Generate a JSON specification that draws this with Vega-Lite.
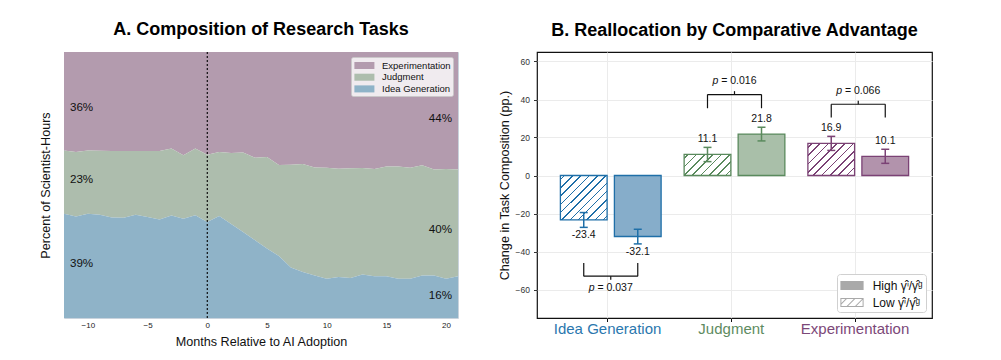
{
  "$schema": "https://vega.github.io/schema/vega-lite/v6.json",
  "padding": {"left": 38, "top": 20, "right": 5, "bottom": 3},
  "spacing": 38,
  "config": {
    "font": "Liberation Sans",
    "axis": {"labelFont": "Liberation Sans", "titleFont": "Liberation Sans", "titleFontWeight": "normal", "titleColor": "#111", "labelColor": "#222"},
    "legend": {"labelFont": "Liberation Sans"},
    "title": {"font": "Liberation Sans", "fontWeight": "bold", "fontSize": 18, "color": "#000"}
  },
  "resolve": {"scale": {"color": "independent", "fill": "independent", "stroke": "independent", "shape": "independent", "x": "independent", "y": "independent"}, "legend": {"color": "independent"}},
  "datasets": {
    "composition": [
      {"m": -12, "Idea Generation": 39.2, "Judgment": 23.8, "Experimentation": 37.0},
      {"m": -11, "Idea Generation": 38.2, "Judgment": 24.2, "Experimentation": 37.6},
      {"m": -10, "Idea Generation": 39.2, "Judgment": 23.8, "Experimentation": 37.0},
      {"m": -9, "Idea Generation": 38.8, "Judgment": 24.1, "Experimentation": 37.1},
      {"m": -8, "Idea Generation": 37.8, "Judgment": 25.0, "Experimentation": 37.2},
      {"m": -7, "Idea Generation": 37.7, "Judgment": 25.1, "Experimentation": 37.2},
      {"m": -6, "Idea Generation": 38.8, "Judgment": 24.0, "Experimentation": 37.2},
      {"m": -5, "Idea Generation": 38.0, "Judgment": 24.8, "Experimentation": 37.2},
      {"m": -4, "Idea Generation": 37.0, "Judgment": 25.8, "Experimentation": 37.2},
      {"m": -3, "Idea Generation": 38.5, "Judgment": 25.2, "Experimentation": 36.3},
      {"m": -2, "Idea Generation": 37.3, "Judgment": 23.9, "Experimentation": 38.8},
      {"m": -1, "Idea Generation": 38.6, "Judgment": 25.1, "Experimentation": 36.3},
      {"m": 0, "Idea Generation": 36.1, "Judgment": 25.3, "Experimentation": 38.6},
      {"m": 1, "Idea Generation": 38.3, "Judgment": 24.1, "Experimentation": 37.6},
      {"m": 2, "Idea Generation": 35.3, "Judgment": 26.7, "Experimentation": 38.0},
      {"m": 3, "Idea Generation": 32.3, "Judgment": 29.9, "Experimentation": 37.8},
      {"m": 4, "Idea Generation": 29.2, "Judgment": 31.0, "Experimentation": 39.8},
      {"m": 5, "Idea Generation": 26.1, "Judgment": 34.4, "Experimentation": 39.5},
      {"m": 6, "Idea Generation": 23.3, "Judgment": 34.2, "Experimentation": 42.5},
      {"m": 7, "Idea Generation": 19.0, "Judgment": 38.6, "Experimentation": 42.4},
      {"m": 8, "Idea Generation": 17.3, "Judgment": 40.6, "Experimentation": 42.1},
      {"m": 9, "Idea Generation": 16.0, "Judgment": 40.6, "Experimentation": 43.4},
      {"m": 10, "Idea Generation": 14.8, "Judgment": 41.7, "Experimentation": 43.5},
      {"m": 11, "Idea Generation": 15.4, "Judgment": 40.7, "Experimentation": 43.9},
      {"m": 12, "Idea Generation": 15.0, "Judgment": 41.3, "Experimentation": 43.7},
      {"m": 13, "Idea Generation": 16.4, "Judgment": 40.0, "Experimentation": 43.6},
      {"m": 14, "Idea Generation": 15.7, "Judgment": 40.3, "Experimentation": 44.0},
      {"m": 15, "Idea Generation": 15.7, "Judgment": 41.3, "Experimentation": 43.0},
      {"m": 16, "Idea Generation": 14.8, "Judgment": 42.2, "Experimentation": 43.0},
      {"m": 17, "Idea Generation": 14.8, "Judgment": 41.7, "Experimentation": 43.5},
      {"m": 18, "Idea Generation": 16.0, "Judgment": 41.4, "Experimentation": 42.6},
      {"m": 19, "Idea Generation": 16.0, "Judgment": 39.8, "Experimentation": 44.2},
      {"m": 20, "Idea Generation": 14.8, "Judgment": 41.2, "Experimentation": 44.0},
      {"m": 21, "Idea Generation": 15.7, "Judgment": 40.1, "Experimentation": 44.2}
    ],
    "pct_labels": [
      {"m": -11.5, "share": 78.9, "label": "36%", "side": "start"},
      {"m": -11.5, "share": 51.9, "label": "23%", "side": "start"},
      {"m": -11.5, "share": 20.3, "label": "39%", "side": "start"},
      {"m": 20.5, "share": 74.8, "label": "44%", "side": "end"},
      {"m": 20.5, "share": 33.1, "label": "40%", "side": "end"},
      {"m": 20.5, "share": 8.3, "label": "16%", "side": "end"}
    ],
    "bars": [
      {"task": "Idea Generation", "group": "Low", "value": -23.4, "lo": -27.3, "hi": -19.5},
      {"task": "Idea Generation", "group": "High", "value": -32.1, "lo": -36.0, "hi": -28.3},
      {"task": "Judgment", "group": "Low", "value": 11.1, "lo": 7.3, "hi": 14.8},
      {"task": "Judgment", "group": "High", "value": 21.8, "lo": 18.2, "hi": 25.4},
      {"task": "Experimentation", "group": "Low", "value": 16.9, "lo": 13.2, "hi": 20.6},
      {"task": "Experimentation", "group": "High", "value": 10.1, "lo": 6.4, "hi": 13.8}
    ],
    "brackets": [
      {"task": "Idea Generation", "bar": -53.0, "leg": -46.1, "tip": -54.9, "label_y": -59.1, "p": "= 0.037"},
      {"task": "Judgment", "bar": 42.6, "leg": 35.4, "tip": 44.4, "label_y": 49.5, "p": "= 0.016"},
      {"task": "Experimentation", "bar": 37.5, "leg": 30.5, "tip": 39.3, "label_y": 44.6, "p": "= 0.066"}
    ]
  },
  "hconcat": [
    {
      "width": 394,
      "height": 266,
      "title": {"text": "A. Composition of Research Tasks", "offset": 12, "anchor": "middle", "frame": "group"},
      "view": {"stroke": "#c9d3dd", "strokeWidth": 1},
      "layer": [
        {
          "data": {"name": "composition"},
          "transform": [
            {"fold": ["Experimentation", "Judgment", "Idea Generation"], "as": ["task", "share"]},
            {"calculate": "indexof(['Idea Generation','Judgment','Experimentation'], datum.task)", "as": "stack_rank"}
          ],
          "mark": {"type": "area", "opacity": 1},
          "encoding": {
            "x": {"field": "m", "type": "quantitative", "scale": {"domain": [-12, 21], "nice": false, "zero": false},
                  "axis": {"title": "Months Relative to AI Adoption", "values": [-10, -5, 0, 5, 10, 15, 20], "grid": false, "ticks": false, "domain": false, "labelFontSize": 8, "labelPadding": 3, "titleFontSize": 12.6, "titlePadding": 6}},
            "y": {"field": "share", "type": "quantitative", "stack": "zero", "scale": {"domain": [0, 100], "nice": false},
                  "axis": {"title": "Percent of Scientist-Hours", "labels": false, "ticks": false, "grid": false, "domain": false, "titleFontSize": 12.6, "titlePadding": 12}},
            "color": {"field": "task", "type": "nominal",
                      "scale": {"domain": ["Experimentation", "Judgment", "Idea Generation"], "range": ["#b39bae", "#adbdad", "#8fb3c8"]},
                      "legend": {"title": null, "orient": "top-right", "offset": 5, "fillColor": "rgba(255,255,255,0.8)", "strokeColor": "rgba(200,200,200,0.8)", "cornerRadius": 2, "padding": 2, "rowPadding": 0.7, "symbolType": "M-1.54,-0.54H1.54V0.54H-1.54Z", "symbolSize": 169, "symbolOffset": 4.9, "labelOffset": 11.1, "labelFontSize": 9.5, "labelColor": "#111", "symbolStrokeWidth": 0, "symbolOpacity": 1}},
            "order": {"field": "stack_rank", "type": "quantitative", "sort": "ascending"}
          }
        },
        {
          "data": {"values": [{"m": 0}]},
          "mark": {"type": "rule", "color": "#000", "strokeWidth": 1.1, "strokeDash": [2, 2]},
          "encoding": {"x": {"field": "m", "type": "quantitative"}}
        },
        {
          "data": {"name": "pct_labels"},
          "transform": [{"filter": "datum.side === 'start'"}],
          "mark": {"type": "text", "align": "left", "baseline": "middle", "fontSize": 11.6, "color": "#111"},
          "encoding": {
            "x": {"field": "m", "type": "quantitative"},
            "y": {"field": "share", "type": "quantitative"},
            "text": {"field": "label", "type": "nominal"}
          }
        },
        {
          "data": {"name": "pct_labels"},
          "transform": [{"filter": "datum.side === 'end'"}],
          "mark": {"type": "text", "align": "right", "baseline": "middle", "fontSize": 11.6, "color": "#111"},
          "encoding": {
            "x": {"field": "m", "type": "quantitative"},
            "y": {"field": "share", "type": "quantitative"},
            "text": {"field": "label", "type": "nominal"}
          }
        }
      ]
    },
    {
      "width": 395,
      "height": 266,
      "title": {"text": "B. Reallocation by Comparative Advantage", "offset": 12, "anchor": "middle", "frame": "group"},
      "view": {"stroke": "#111", "strokeWidth": 1.2},
      "encoding": {
        "x": {"field": "task", "type": "nominal",
              "scale": {"domain": ["Idea Generation", "Judgment", "Experimentation"], "paddingInner": 0.186, "paddingOuter": 0.189},
              "axis": {"title": null, "labelAngle": 0, "labelFontSize": 15, "labelPadding": 0, "ticks": true, "tickSize": 3.5, "tickColor": "#111", "domain": false, "grid": true, "gridColor": "#ebebeb", "bandPosition": 0.5, "tickOffset": -3.7,
                       "labelColor": {"condition": [{"test": "datum.value === 'Idea Generation'", "value": "#2a77ae"}, {"test": "datum.value === 'Judgment'", "value": "#5e8b61"}], "value": "#7c4878"}}}
      },
      "layer": [
        {
          "data": {"name": "bars"},
          "transform": [{"filter": "datum.group === 'High'"}],
          "mark": {"type": "bar", "strokeWidth": 1.3},
          "encoding": {
            "xOffset": {"field": "group", "type": "nominal", "scale": {"domain": ["Low", "High"], "paddingInner": 0.135, "paddingOuter": 0}},
            "y": {"field": "value", "type": "quantitative", "scale": {"domain": [-75, 65], "nice": false, "zero": false},
                  "axis": {"title": "Change in Task Composition (pp.)", "values": [-60, -40, -20, 0, 20, 40, 60], "titleFontSize": 12.6, "titlePadding": 4, "labelFontSize": 8.5, "labelPadding": 4, "tickSize": 3.5, "tickColor": "#333", "labelColor": "#333", "domain": false, "grid": true, "gridColor": "#ebebeb"}},
            "fill": {"field": "task", "type": "nominal", "scale": {"domain": ["Idea Generation", "Judgment", "Experimentation"], "range": ["#86adca", "#a9bfa9", "#b293ac"]}, "legend": null},
            "stroke": {"field": "task", "type": "nominal", "scale": {"domain": ["Idea Generation", "Judgment", "Experimentation"], "range": ["#1f6fa8", "#5a8a5d", "#7b4275"]}, "legend": null}
          }
        },
        {
          "data": {"name": "bars"},
          "transform": [{"filter": "datum.group === 'Low' && datum.task === 'Idea Generation'"}],
          "mark": {"type": "bar", "strokeWidth": 1.3, "stroke": "#1f6fa8",
                   "fill": {"gradient": "linear", "x1": 0, "y1": 0, "x2": 1.024, "y2": 0.975, "stops": [
                     {"offset": 0, "color": "#ffffff"},
                     {"offset": 0.035, "color": "#ffffff"}, {"offset": 0.035, "color": "#1f6fa8"}, {"offset": 0.053, "color": "#1f6fa8"}, {"offset": 0.053, "color": "#ffffff"},
                     {"offset": 0.126, "color": "#ffffff"}, {"offset": 0.126, "color": "#1f6fa8"}, {"offset": 0.144, "color": "#1f6fa8"}, {"offset": 0.144, "color": "#ffffff"},
                     {"offset": 0.218, "color": "#ffffff"}, {"offset": 0.218, "color": "#1f6fa8"}, {"offset": 0.235, "color": "#1f6fa8"}, {"offset": 0.235, "color": "#ffffff"},
                     {"offset": 0.309, "color": "#ffffff"}, {"offset": 0.309, "color": "#1f6fa8"}, {"offset": 0.327, "color": "#1f6fa8"}, {"offset": 0.327, "color": "#ffffff"},
                     {"offset": 0.401, "color": "#ffffff"}, {"offset": 0.401, "color": "#1f6fa8"}, {"offset": 0.418, "color": "#1f6fa8"}, {"offset": 0.418, "color": "#ffffff"},
                     {"offset": 0.492, "color": "#ffffff"}, {"offset": 0.492, "color": "#1f6fa8"}, {"offset": 0.510, "color": "#1f6fa8"}, {"offset": 0.510, "color": "#ffffff"},
                     {"offset": 0.583, "color": "#ffffff"}, {"offset": 0.583, "color": "#1f6fa8"}, {"offset": 0.601, "color": "#1f6fa8"}, {"offset": 0.601, "color": "#ffffff"},
                     {"offset": 0.675, "color": "#ffffff"}, {"offset": 0.675, "color": "#1f6fa8"}, {"offset": 0.692, "color": "#1f6fa8"}, {"offset": 0.692, "color": "#ffffff"},
                     {"offset": 0.766, "color": "#ffffff"}, {"offset": 0.766, "color": "#1f6fa8"}, {"offset": 0.784, "color": "#1f6fa8"}, {"offset": 0.784, "color": "#ffffff"},
                     {"offset": 0.857, "color": "#ffffff"}, {"offset": 0.857, "color": "#1f6fa8"}, {"offset": 0.875, "color": "#1f6fa8"}, {"offset": 0.875, "color": "#ffffff"},
                     {"offset": 0.949, "color": "#ffffff"}, {"offset": 0.949, "color": "#1f6fa8"}, {"offset": 0.966, "color": "#1f6fa8"}, {"offset": 0.966, "color": "#ffffff"},
                     {"offset": 1, "color": "#ffffff"}]}},
          "encoding": {
            "xOffset": {"field": "group", "type": "nominal"},
            "y": {"field": "value", "type": "quantitative"}
          }
        },
        {
          "data": {"name": "bars"},
          "transform": [{"filter": "datum.group === 'Low' && datum.task === 'Judgment'"}],
          "mark": {"type": "bar", "strokeWidth": 1.3, "stroke": "#5a8a5d",
                   "fill": {"gradient": "linear", "x1": 0, "y1": 0, "x2": 1.206, "y2": 0.545, "stops": [
                     {"offset": 0, "color": "#ffffff"},
                     {"offset": 0.047, "color": "#ffffff"}, {"offset": 0.047, "color": "#5a8a5d"}, {"offset": 0.071, "color": "#5a8a5d"}, {"offset": 0.071, "color": "#ffffff"},
                     {"offset": 0.170, "color": "#ffffff"}, {"offset": 0.170, "color": "#5a8a5d"}, {"offset": 0.194, "color": "#5a8a5d"}, {"offset": 0.194, "color": "#ffffff"},
                     {"offset": 0.293, "color": "#ffffff"}, {"offset": 0.293, "color": "#5a8a5d"}, {"offset": 0.317, "color": "#5a8a5d"}, {"offset": 0.317, "color": "#ffffff"},
                     {"offset": 0.416, "color": "#ffffff"}, {"offset": 0.416, "color": "#5a8a5d"}, {"offset": 0.440, "color": "#5a8a5d"}, {"offset": 0.440, "color": "#ffffff"},
                     {"offset": 0.539, "color": "#ffffff"}, {"offset": 0.539, "color": "#5a8a5d"}, {"offset": 0.562, "color": "#5a8a5d"}, {"offset": 0.562, "color": "#ffffff"},
                     {"offset": 0.662, "color": "#ffffff"}, {"offset": 0.662, "color": "#5a8a5d"}, {"offset": 0.685, "color": "#5a8a5d"}, {"offset": 0.685, "color": "#ffffff"},
                     {"offset": 0.785, "color": "#ffffff"}, {"offset": 0.785, "color": "#5a8a5d"}, {"offset": 0.808, "color": "#5a8a5d"}, {"offset": 0.808, "color": "#ffffff"},
                     {"offset": 0.908, "color": "#ffffff"}, {"offset": 0.908, "color": "#5a8a5d"}, {"offset": 0.931, "color": "#5a8a5d"}, {"offset": 0.931, "color": "#ffffff"},
                     {"offset": 1, "color": "#ffffff"}]}},
          "encoding": {
            "xOffset": {"field": "group", "type": "nominal"},
            "y": {"field": "value", "type": "quantitative"}
          }
        },
        {
          "data": {"name": "bars"},
          "transform": [{"filter": "datum.group === 'Low' && datum.task === 'Experimentation'"}],
          "mark": {"type": "bar", "strokeWidth": 1.3, "stroke": "#7b4275",
                   "fill": {"gradient": "linear", "x1": 0, "y1": 0, "x2": 1.146, "y2": 0.788, "stops": [
                     {"offset": 0, "color": "#ffffff"},
                     {"offset": 0.041, "color": "#ffffff"}, {"offset": 0.041, "color": "#7b4275"}, {"offset": 0.061, "color": "#7b4275"}, {"offset": 0.061, "color": "#ffffff"},
                     {"offset": 0.146, "color": "#ffffff"}, {"offset": 0.146, "color": "#7b4275"}, {"offset": 0.167, "color": "#7b4275"}, {"offset": 0.167, "color": "#ffffff"},
                     {"offset": 0.252, "color": "#ffffff"}, {"offset": 0.252, "color": "#7b4275"}, {"offset": 0.272, "color": "#7b4275"}, {"offset": 0.272, "color": "#ffffff"},
                     {"offset": 0.358, "color": "#ffffff"}, {"offset": 0.358, "color": "#7b4275"}, {"offset": 0.378, "color": "#7b4275"}, {"offset": 0.378, "color": "#ffffff"},
                     {"offset": 0.464, "color": "#ffffff"}, {"offset": 0.464, "color": "#7b4275"}, {"offset": 0.484, "color": "#7b4275"}, {"offset": 0.484, "color": "#ffffff"},
                     {"offset": 0.569, "color": "#ffffff"}, {"offset": 0.569, "color": "#7b4275"}, {"offset": 0.590, "color": "#7b4275"}, {"offset": 0.590, "color": "#ffffff"},
                     {"offset": 0.675, "color": "#ffffff"}, {"offset": 0.675, "color": "#7b4275"}, {"offset": 0.695, "color": "#7b4275"}, {"offset": 0.695, "color": "#ffffff"},
                     {"offset": 0.781, "color": "#ffffff"}, {"offset": 0.781, "color": "#7b4275"}, {"offset": 0.801, "color": "#7b4275"}, {"offset": 0.801, "color": "#ffffff"},
                     {"offset": 0.887, "color": "#ffffff"}, {"offset": 0.887, "color": "#7b4275"}, {"offset": 0.907, "color": "#7b4275"}, {"offset": 0.907, "color": "#ffffff"},
                     {"offset": 1, "color": "#ffffff"}]}},
          "encoding": {
            "xOffset": {"field": "group", "type": "nominal"},
            "y": {"field": "value", "type": "quantitative"}
          }
        },
        {
          "data": {"name": "bars"},
          "mark": {"type": "rule", "strokeWidth": 1.5},
          "encoding": {
            "xOffset": {"field": "group", "type": "nominal"},
            "y": {"field": "lo", "type": "quantitative"},
            "y2": {"field": "hi"},
            "color": {"field": "task", "type": "nominal", "scale": {"domain": ["Idea Generation", "Judgment", "Experimentation"], "range": ["#1f6fa8", "#5a8a5d", "#7b4275"]}, "legend": null}
          }
        },
        {
          "data": {"name": "bars"},
          "mark": {"type": "tick", "size": 8, "thickness": 1.5, "opacity": 1},
          "encoding": {
            "xOffset": {"field": "group", "type": "nominal"},
            "y": {"field": "lo", "type": "quantitative"},
            "color": {"field": "task", "type": "nominal", "legend": null}
          }
        },
        {
          "data": {"name": "bars"},
          "mark": {"type": "tick", "size": 8, "thickness": 1.5, "opacity": 1},
          "encoding": {
            "xOffset": {"field": "group", "type": "nominal"},
            "y": {"field": "hi", "type": "quantitative"},
            "color": {"field": "task", "type": "nominal", "legend": null}
          }
        },
        {
          "data": {"name": "bars"},
          "transform": [{"filter": "datum.value > 0"}],
          "mark": {"type": "text", "baseline": "bottom", "dy": -3, "fontSize": 10.5, "color": "#111"},
          "encoding": {
            "xOffset": {"field": "group", "type": "nominal"},
            "y": {"field": "hi", "type": "quantitative"},
            "text": {"field": "value", "type": "nominal"}
          }
        },
        {
          "data": {"name": "bars"},
          "transform": [{"filter": "datum.value < 0"}],
          "mark": {"type": "text", "baseline": "top", "dy": 3, "fontSize": 10.5, "color": "#111"},
          "encoding": {
            "xOffset": {"field": "group", "type": "nominal"},
            "y": {"field": "lo", "type": "quantitative"},
            "text": {"field": "value", "type": "nominal"}
          }
        },
        {
          "data": {"name": "brackets"},
          "mark": {"type": "tick", "size": 54.2, "thickness": 1.2, "color": "#111", "opacity": 1},
          "encoding": {"y": {"field": "bar", "type": "quantitative"}}
        },
        {
          "data": {"name": "brackets"},
          "mark": {"type": "rule", "strokeWidth": 1.2, "color": "#111"},
          "encoding": {"y": {"field": "bar", "type": "quantitative"}, "y2": {"field": "tip"}}
        },
        {
          "data": {"name": "brackets"},
          "mark": {"type": "rule", "strokeWidth": 1.2, "color": "#111"},
          "encoding": {"xOffset": {"datum": "Low"}, "y": {"field": "bar", "type": "quantitative"}, "y2": {"field": "leg"}}
        },
        {
          "data": {"name": "brackets"},
          "mark": {"type": "rule", "strokeWidth": 1.2, "color": "#111"},
          "encoding": {"xOffset": {"datum": "High"}, "y": {"field": "bar", "type": "quantitative"}, "y2": {"field": "leg"}}
        },
        {
          "data": {"name": "brackets"},
          "mark": {"type": "text", "text": "p", "fontStyle": "italic", "align": "right", "baseline": "middle", "dx": -16.2, "fontSize": 10.5, "color": "#111"},
          "encoding": {"y": {"field": "label_y", "type": "quantitative"}}
        },
        {
          "data": {"name": "brackets"},
          "mark": {"type": "text", "align": "left", "baseline": "middle", "dx": -13.3, "fontSize": 10.5, "color": "#111"},
          "encoding": {"y": {"field": "label_y", "type": "quantitative"}, "text": {"field": "p", "type": "nominal"}}
        },
        {
          "data": {"name": "bars"},
          "transform": [{"filter": "false"}],
          "mark": {"type": "point", "filled": true, "fill": "#a9a9a9", "opacity": 1},
          "encoding": {
            "xOffset": {"field": "group", "type": "nominal"},
            "y": {"field": "value", "type": "quantitative"},
            "shape": {"field": "group", "type": "nominal",
                      "scale": {"domain": ["High", "Low"], "range": ["M-1.365,-0.53H1.365V0.53H-1.365Z", "M-1.365,-0.53H1.365V0.53H-1.365Z M-1.247,-0.412V0.412H1.247V-0.412Z M-0.62,0.412L-0.455,0.412L0.369,-0.412L0.204,-0.412Z M0.36,0.412L0.525,0.412L1.247,-0.31L1.247,-0.412L1.184,-0.412Z M-1.247,0.224L-0.611,-0.412L-0.776,-0.412L-1.247,0.059Z"]},
                      "legend": {"title": null, "orient": "bottom-right", "offset": 6, "fillColor": "#ffffff", "strokeColor": "#d0d0d0", "cornerRadius": 3, "padding": 3, "rowPadding": 2,
                                 "symbolSize": 289, "symbolOffset": 3.5, "labelOffset": 12.2, "labelFontSize": 12, "labelColor": "#111", "symbolStrokeWidth": 0, "symbolOpacity": 1, "symbolFillColor": "#a9a9a9",
                                 "labelExpr": "datum.value === 'High' ? 'High γ̂ⁱ/γ̂ᵍ' : 'Low γ̂ⁱ/γ̂ᵍ'"}}
          }
        }
      ]
    }
  ]
}
